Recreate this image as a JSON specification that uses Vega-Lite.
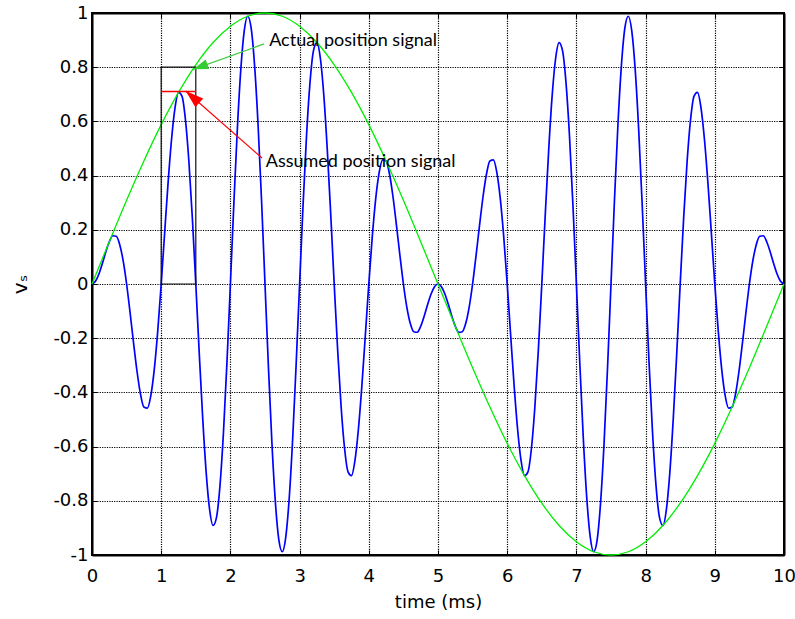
{
  "$schema": "https://vega.github.io/schema/vega-lite/v6.json",
  "width": 692,
  "height": 542,
  "autosize": {"type": "none"},
  "padding": {"left": 92, "top": 13, "right": 11, "bottom": 64},
  "background": "white",
  "config": {
    "view": {"stroke": "#000", "strokeWidth": 2},
    "axis": {
      "labelFont": "DejaVu Sans",
      "labelFontSize": 18,
      "labelColor": "#000",
      "labelFlush": false,
      "titleFont": "DejaVu Sans",
      "titleFontSize": 18,
      "titleFontWeight": "normal",
      "titleColor": "#000",
      "domainColor": "#000",
      "domainWidth": 2,
      "tickColor": "#000",
      "tickWidth": 1,
      "tickSize": -5,
      "gridColor": "#000",
      "gridOpacity": 1,
      "gridWidth": 1.2,
      "gridDash": [1.2, 1.2]
    }
  },
  "datasets": {
    "signal": [
      {"t": 0, "v": 0}, {"t": 0.05, "v": 0.010}, {"t": 0.1, "v": 0.037}, {"t": 0.15, "v": 0.076}, {"t": 0.2, "v": 0.119},
      {"t": 0.25, "v": 0.156}, {"t": 0.3, "v": 0.178}, {"t": 0.35, "v": 0.176}, {"t": 0.4, "v": 0.146}, {"t": 0.45, "v": 0.086},
      {"t": 0.5, "v": 0}, {"t": 0.55, "v": -0.105}, {"t": 0.6, "v": -0.216}, {"t": 0.65, "v": -0.321}, {"t": 0.7, "v": -0.405},
      {"t": 0.75, "v": -0.454}, {"t": 0.8, "v": -0.458}, {"t": 0.85, "v": -0.412}, {"t": 0.9, "v": -0.315}, {"t": 0.95, "v": -0.174},
      {"t": 1, "v": 0}, {"t": 1.05, "v": 0.189}, {"t": 1.1, "v": 0.375}, {"t": 1.15, "v": 0.535}, {"t": 1.2, "v": 0.651},
      {"t": 1.25, "v": 0.707}, {"t": 1.3, "v": 0.693}, {"t": 1.35, "v": 0.607}, {"t": 1.4, "v": 0.453}, {"t": 1.45, "v": 0.244},
      {"t": 1.5, "v": 0}, {"t": 1.55, "v": -0.256}, {"t": 1.6, "v": -0.496}, {"t": 1.65, "v": -0.696}, {"t": 1.7, "v": -0.833},
      {"t": 1.75, "v": -0.891}, {"t": 1.8, "v": -0.860}, {"t": 1.85, "v": -0.742}, {"t": 1.9, "v": -0.547}, {"t": 1.95, "v": -0.291},
      {"t": 2, "v": 0}, {"t": 2.05, "v": 0.297}, {"t": 2.1, "v": 0.570}, {"t": 2.15, "v": 0.790}, {"t": 2.2, "v": 0.934},
      {"t": 2.25, "v": 0.988}, {"t": 2.3, "v": 0.944}, {"t": 2.35, "v": 0.805}, {"t": 2.4, "v": 0.587}, {"t": 2.45, "v": 0.309},
      {"t": 2.5, "v": 0}, {"t": 2.55, "v": -0.309}, {"t": 2.6, "v": -0.587}, {"t": 2.65, "v": -0.805}, {"t": 2.7, "v": -0.944},
      {"t": 2.75, "v": -0.988}, {"t": 2.8, "v": -0.934}, {"t": 2.85, "v": -0.790}, {"t": 2.9, "v": -0.570}, {"t": 2.95, "v": -0.297},
      {"t": 3, "v": 0}, {"t": 3.05, "v": 0.291}, {"t": 3.1, "v": 0.547}, {"t": 3.15, "v": 0.742}, {"t": 3.2, "v": 0.860},
      {"t": 3.25, "v": 0.891}, {"t": 3.3, "v": 0.833}, {"t": 3.35, "v": 0.696}, {"t": 3.4, "v": 0.496}, {"t": 3.45, "v": 0.256},
      {"t": 3.5, "v": 0}, {"t": 3.55, "v": -0.244}, {"t": 3.6, "v": -0.453}, {"t": 3.65, "v": -0.607}, {"t": 3.7, "v": -0.693},
      {"t": 3.75, "v": -0.707}, {"t": 3.8, "v": -0.651}, {"t": 3.85, "v": -0.535}, {"t": 3.9, "v": -0.375}, {"t": 3.95, "v": -0.189},
      {"t": 4, "v": 0}, {"t": 4.05, "v": 0.174}, {"t": 4.1, "v": 0.315}, {"t": 4.15, "v": 0.412}, {"t": 4.2, "v": 0.458},
      {"t": 4.25, "v": 0.454}, {"t": 4.3, "v": 0.405}, {"t": 4.35, "v": 0.321}, {"t": 4.4, "v": 0.216}, {"t": 4.45, "v": 0.105},
      {"t": 4.5, "v": 0}, {"t": 4.55, "v": -0.086}, {"t": 4.6, "v": -0.146}, {"t": 4.65, "v": -0.176}, {"t": 4.7, "v": -0.178},
      {"t": 4.75, "v": -0.156}, {"t": 4.8, "v": -0.119}, {"t": 4.85, "v": -0.076}, {"t": 4.9, "v": -0.037}, {"t": 4.95, "v": -0.010},
      {"t": 5, "v": 0}, {"t": 5.05, "v": -0.010}, {"t": 5.1, "v": -0.037}, {"t": 5.15, "v": -0.076}, {"t": 5.2, "v": -0.119},
      {"t": 5.25, "v": -0.156}, {"t": 5.3, "v": -0.178}, {"t": 5.35, "v": -0.176}, {"t": 5.4, "v": -0.146}, {"t": 5.45, "v": -0.086},
      {"t": 5.5, "v": 0}, {"t": 5.55, "v": 0.105}, {"t": 5.6, "v": 0.216}, {"t": 5.65, "v": 0.321}, {"t": 5.7, "v": 0.405},
      {"t": 5.75, "v": 0.454}, {"t": 5.8, "v": 0.458}, {"t": 5.85, "v": 0.412}, {"t": 5.9, "v": 0.315}, {"t": 5.95, "v": 0.174},
      {"t": 6, "v": 0}, {"t": 6.05, "v": -0.189}, {"t": 6.1, "v": -0.375}, {"t": 6.15, "v": -0.535}, {"t": 6.2, "v": -0.651},
      {"t": 6.25, "v": -0.707}, {"t": 6.3, "v": -0.693}, {"t": 6.35, "v": -0.607}, {"t": 6.4, "v": -0.453}, {"t": 6.45, "v": -0.244},
      {"t": 6.5, "v": 0}, {"t": 6.55, "v": 0.256}, {"t": 6.6, "v": 0.496}, {"t": 6.65, "v": 0.696}, {"t": 6.7, "v": 0.833},
      {"t": 6.75, "v": 0.891}, {"t": 6.8, "v": 0.860}, {"t": 6.85, "v": 0.742}, {"t": 6.9, "v": 0.547}, {"t": 6.95, "v": 0.291},
      {"t": 7, "v": 0}, {"t": 7.05, "v": -0.297}, {"t": 7.1, "v": -0.570}, {"t": 7.15, "v": -0.790}, {"t": 7.2, "v": -0.934},
      {"t": 7.25, "v": -0.988}, {"t": 7.3, "v": -0.944}, {"t": 7.35, "v": -0.805}, {"t": 7.4, "v": -0.587}, {"t": 7.45, "v": -0.309},
      {"t": 7.5, "v": 0}, {"t": 7.55, "v": 0.309}, {"t": 7.6, "v": 0.587}, {"t": 7.65, "v": 0.805}, {"t": 7.7, "v": 0.944},
      {"t": 7.75, "v": 0.988}, {"t": 7.8, "v": 0.934}, {"t": 7.85, "v": 0.790}, {"t": 7.9, "v": 0.570}, {"t": 7.95, "v": 0.297},
      {"t": 8, "v": 0}, {"t": 8.05, "v": -0.291}, {"t": 8.1, "v": -0.547}, {"t": 8.15, "v": -0.742}, {"t": 8.2, "v": -0.860},
      {"t": 8.25, "v": -0.891}, {"t": 8.3, "v": -0.833}, {"t": 8.35, "v": -0.696}, {"t": 8.4, "v": -0.496}, {"t": 8.45, "v": -0.256},
      {"t": 8.5, "v": 0}, {"t": 8.55, "v": 0.244}, {"t": 8.6, "v": 0.453}, {"t": 8.65, "v": 0.607}, {"t": 8.7, "v": 0.693},
      {"t": 8.75, "v": 0.707}, {"t": 8.8, "v": 0.651}, {"t": 8.85, "v": 0.535}, {"t": 8.9, "v": 0.375}, {"t": 8.95, "v": 0.189},
      {"t": 9, "v": 0}, {"t": 9.05, "v": -0.174}, {"t": 9.1, "v": -0.315}, {"t": 9.15, "v": -0.412}, {"t": 9.2, "v": -0.458},
      {"t": 9.25, "v": -0.454}, {"t": 9.3, "v": -0.405}, {"t": 9.35, "v": -0.321}, {"t": 9.4, "v": -0.216}, {"t": 9.45, "v": -0.105},
      {"t": 9.5, "v": 0}, {"t": 9.55, "v": 0.086}, {"t": 9.6, "v": 0.146}, {"t": 9.65, "v": 0.176}, {"t": 9.7, "v": 0.178},
      {"t": 9.75, "v": 0.156}, {"t": 9.8, "v": 0.119}, {"t": 9.85, "v": 0.076}, {"t": 9.9, "v": 0.037}, {"t": 9.95, "v": 0.010},
      {"t": 10, "v": 0}
    ],
    "position": [
      {"t": 0, "v": 0}, {"t": 0.25, "v": 0.156}, {"t": 0.5, "v": 0.309}, {"t": 0.75, "v": 0.454}, {"t": 1, "v": 0.588},
      {"t": 1.25, "v": 0.707}, {"t": 1.5, "v": 0.809}, {"t": 1.75, "v": 0.891}, {"t": 2, "v": 0.951}, {"t": 2.25, "v": 0.988},
      {"t": 2.5, "v": 1}, {"t": 2.75, "v": 0.988}, {"t": 3, "v": 0.951}, {"t": 3.25, "v": 0.891}, {"t": 3.5, "v": 0.809},
      {"t": 3.75, "v": 0.707}, {"t": 4, "v": 0.588}, {"t": 4.25, "v": 0.454}, {"t": 4.5, "v": 0.309}, {"t": 4.75, "v": 0.156},
      {"t": 5, "v": 0}, {"t": 5.25, "v": -0.156}, {"t": 5.5, "v": -0.309}, {"t": 5.75, "v": -0.454}, {"t": 6, "v": -0.588},
      {"t": 6.25, "v": -0.707}, {"t": 6.5, "v": -0.809}, {"t": 6.75, "v": -0.891}, {"t": 7, "v": -0.951}, {"t": 7.25, "v": -0.988},
      {"t": 7.5, "v": -1}, {"t": 7.75, "v": -0.988}, {"t": 8, "v": -0.951}, {"t": 8.25, "v": -0.891}, {"t": 8.5, "v": -0.809},
      {"t": 8.75, "v": -0.707}, {"t": 9, "v": -0.588}, {"t": 9.25, "v": -0.454}, {"t": 9.5, "v": -0.309}, {"t": 9.75, "v": -0.156},
      {"t": 10, "v": 0}
    ],
    "sample_box": [{"t0": 1, "t1": 1.5, "v0": 0, "v1": 0.8}],
    "assumed_level": [{"t0": 1, "t1": 1.5, "v": 0.71}],
    "actual_arrow": [{"t0": 2.486, "v0": 0.886, "t1": 1.464, "v1": 0.792, "label": "Actual position signal", "lt": 2.56, "lv": 0.878}],
    "assumed_arrow": [{"t0": 2.457, "v0": 0.465, "t1": 1.354, "v1": 0.712, "label": "Assumed position signal", "lt": 2.51, "lv": 0.432}]
  },
  "layer": [
    {
      "data": {"name": "signal"},
      "mark": {"type": "line", "color": "#0000ff", "strokeWidth": 1.7, "interpolate": "monotone"},
      "encoding": {
        "x": {
          "field": "t", "type": "quantitative",
          "scale": {"domain": [0, 10], "nice": false},
          "axis": {
            "orient": "bottom", "title": "time (ms)",
            "values": [0, 1, 2, 3, 4, 5, 6, 7, 8, 9, 10],
            "labelExpr": "'' + datum.value",
            "grid": true, "labelPadding": 17, "titlePadding": 8
          }
        },
        "y": {
          "field": "v", "type": "quantitative",
          "scale": {"domain": [-1, 1], "nice": false},
          "axis": {
            "orient": "left", "title": "vₛ", "titleFontSize": 20,
            "values": [-1, -0.8, -0.6, -0.4, -0.2, 0, 0.2, 0.4, 0.6, 0.8, 1],
            "labelExpr": "'' + datum.value",
            "grid": true, "labelPadding": 9, "titlePadding": 22
          }
        }
      }
    },
    {
      "data": {"name": "position"},
      "mark": {"type": "line", "color": "#00ee00", "strokeWidth": 1.3, "interpolate": "monotone"},
      "encoding": {
        "x": {
          "field": "t", "type": "quantitative",
          "axis": {"orient": "top", "title": null, "labels": false, "grid": false, "values": [0, 1, 2, 3, 4, 5, 6, 7, 8, 9, 10]}
        },
        "y": {
          "field": "v", "type": "quantitative",
          "axis": {"orient": "right", "title": null, "labels": false, "grid": false, "values": [-1, -0.8, -0.6, -0.4, -0.2, 0, 0.2, 0.4, 0.6, 0.8, 1]}
        }
      }
    },
    {
      "data": {"name": "sample_box"},
      "mark": {"type": "rect", "filled": false, "color": "#111", "strokeWidth": 1.2},
      "encoding": {
        "x": {"field": "t0", "type": "quantitative", "axis": null},
        "x2": {"field": "t1"},
        "y": {"field": "v0", "type": "quantitative", "axis": null},
        "y2": {"field": "v1"}
      }
    },
    {
      "data": {"name": "assumed_level"},
      "mark": {"type": "rule", "color": "#ff0000", "strokeWidth": 1.5},
      "encoding": {
        "x": {"field": "t0", "type": "quantitative", "axis": null},
        "x2": {"field": "t1"},
        "y": {"field": "v", "type": "quantitative", "axis": null}
      }
    },
    {
      "data": {"name": "actual_arrow"},
      "layer": [
        {
          "mark": {"type": "rule", "color": "#44cc44", "strokeWidth": 1.2},
          "encoding": {
            "x": {"field": "t0", "type": "quantitative", "axis": null},
            "y": {"field": "v0", "type": "quantitative", "axis": null},
            "x2": {"field": "t1"},
            "y2": {"field": "v1"}
          }
        },
        {
          "mark": {"type": "point", "shape": "M0,0L-0.33,1L0.33,1Z", "filled": true, "color": "#33cc33", "opacity": 1, "size": 900, "angle": 250, "strokeWidth": 0},
          "encoding": {
            "x": {"field": "t1", "type": "quantitative", "axis": null},
            "y": {"field": "v1", "type": "quantitative", "axis": null}
          }
        },
        {
          "mark": {"type": "text", "font": "Lato", "fontSize": 18, "color": "#000", "align": "left", "baseline": "alphabetic"},
          "encoding": {
            "x": {"field": "lt", "type": "quantitative", "axis": null},
            "y": {"field": "lv", "type": "quantitative", "axis": null},
            "text": {"field": "label"}
          }
        }
      ]
    },
    {
      "data": {"name": "assumed_arrow"},
      "layer": [
        {
          "mark": {"type": "rule", "color": "#ff0000", "strokeWidth": 1.2},
          "encoding": {
            "x": {"field": "t0", "type": "quantitative", "axis": null},
            "y": {"field": "v0", "type": "quantitative", "axis": null},
            "x2": {"field": "t1"},
            "y2": {"field": "v1"}
          }
        },
        {
          "mark": {"type": "point", "shape": "M0,0L-0.33,1L0.33,1Z", "filled": true, "color": "#ff0000", "opacity": 1, "size": 1300, "angle": 311, "strokeWidth": 0},
          "encoding": {
            "x": {"field": "t1", "type": "quantitative", "axis": null},
            "y": {"field": "v1", "type": "quantitative", "axis": null}
          }
        },
        {
          "mark": {"type": "text", "font": "Lato", "fontSize": 18, "color": "#000", "align": "left", "baseline": "alphabetic"},
          "encoding": {
            "x": {"field": "lt", "type": "quantitative", "axis": null},
            "y": {"field": "lv", "type": "quantitative", "axis": null},
            "text": {"field": "label"}
          }
        }
      ]
    }
  ],
  "resolve": {"axis": {"x": "independent", "y": "independent"}}
}
